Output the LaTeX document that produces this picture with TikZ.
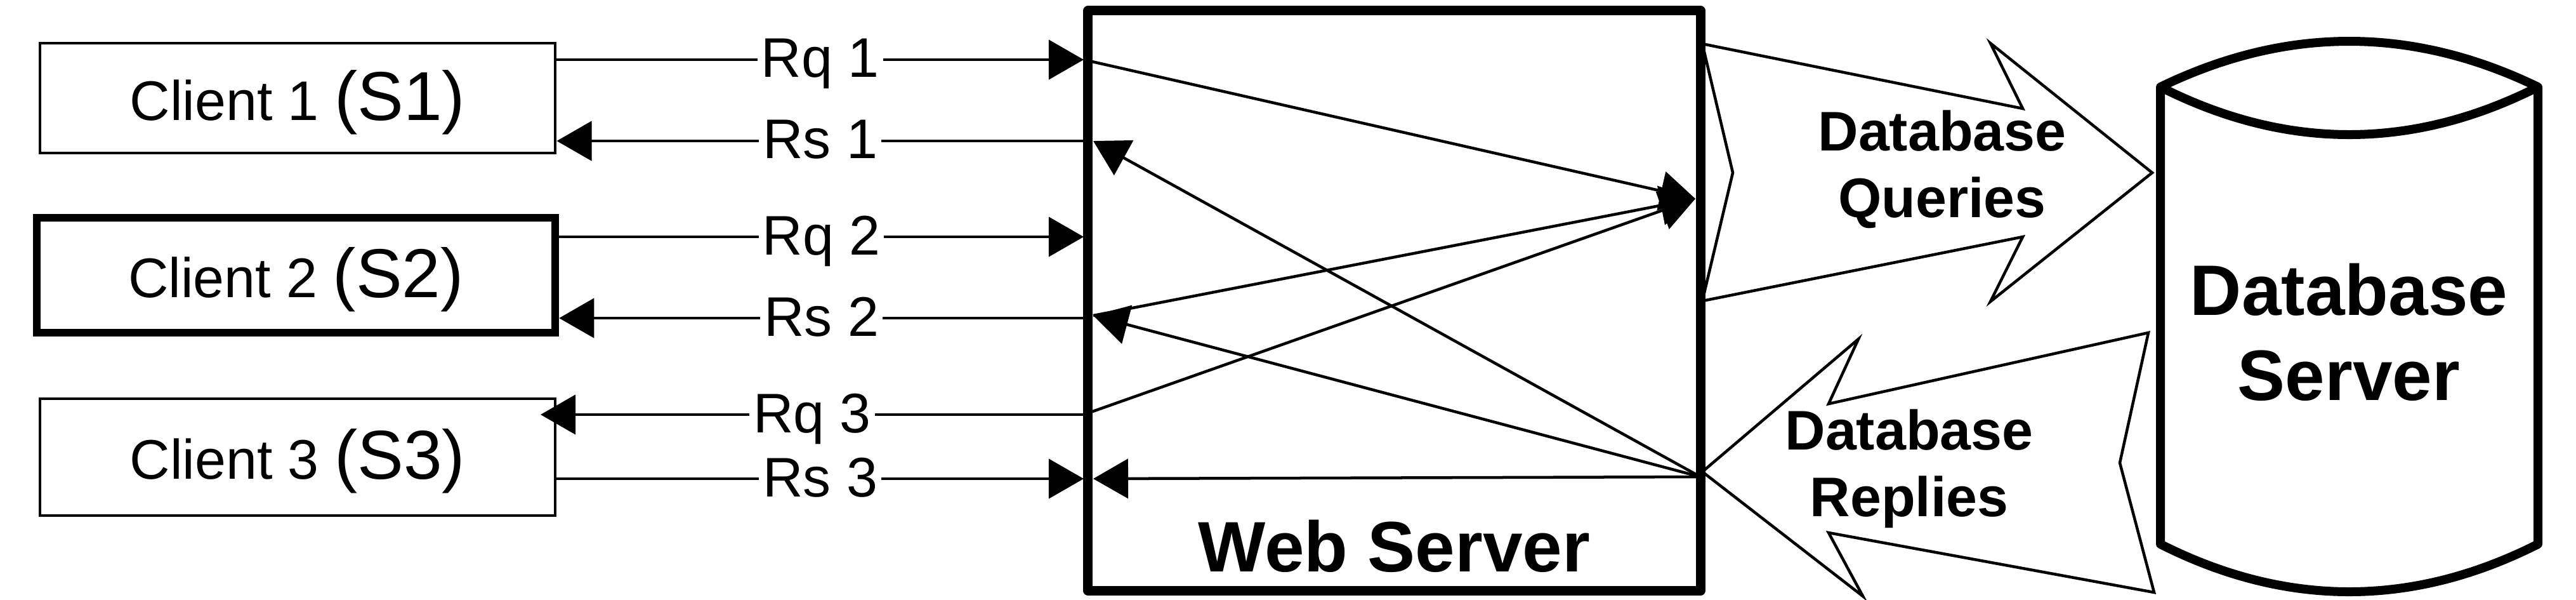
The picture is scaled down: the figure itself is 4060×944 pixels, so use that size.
\documentclass[tikz,border=0pt]{standalone}
\usepackage{fontspec}
\setmainfont{Liberation Sans}
\usepackage{tikz}
\usetikzlibrary{arrows.meta}
\newcommand\srvid[1]{{\fontsize{31}{36}\selectfont(S#1)}}

\begin{document}
\begin{tikzpicture}[x=0.01cm,y=-0.01cm,font=\fontsize{25}{30}\selectfont]
  \tikzstyle{cl}=[draw,line width=0.045cm,minimum width=8.12cm,minimum height=1.73cm,inner sep=0pt,text depth=0.1cm]
  \tikzstyle{m}=[line width=0.045cm,-{Triangle[length=0.55cm,width=0.62cm]}]
  \tikzstyle{lb}=[fill=white,inner sep=0.06cm,text depth=0.05cm]
  \tikzstyle{big}=[font=\bfseries\fontsize{32}{38}\selectfont,align=center]
  \tikzstyle{mid}=[font=\bfseries\fontsize{25}{30}\selectfont,align=center]
  \useasboundingbox (0,0) rectangle (4060,944);
  \node[cl] (c1) at (469,154.5) {Client 1 \srvid{1}};
  \node[cl,line width=0.12cm,minimum width=8.17cm,minimum height=1.81cm] (c2) at (466.5,433.5) {Client 2 \srvid{2}};
  \node[cl,minimum height=1.84cm] (c3) at (469,720) {Client 3 \srvid{3}};
  \node[draw,line width=0.145cm,line join=round,minimum width=9.65cm,minimum height=9.13cm] (web) at (2197.5,473.5) {};
  \node[big,anchor=base] (webl) at (2197.5,900) {Web Server};
  \coordinate (p1) at (1708,94);
  \coordinate (p2) at (1708,222);
  \coordinate (p3) at (1708,373);
  \coordinate (p4) at (1708,501);
  \coordinate (p5) at (1708,653);
  \coordinate (p6) at (1708,754);
  \coordinate (t5) at (852,653);
  \draw[m] (c1.east |- p1) -- (p1) node[lb,midway]{Rq 1};
  \draw[m] (p2) -- (c1.east |- p2) node[lb,midway]{Rs 1};
  \draw[m] (c2.east |- p3) -- (p3) node[lb,midway]{Rq 2};
  \draw[m] (p4) -- (c2.east |- p4) node[lb,midway]{Rs 2};
  \draw[m] (p5) -- (t5) node[lb,midway]{Rq 3};
  \draw[m] (c3.east |- p6) -- (p6) node[lb,midway]{Rs 3};
  \coordinate (hq) at (2672,313);
  \coordinate (hr) at (2680,751);
  \coordinate (i1) at (1723,222);
  \coordinate (i2) at (1723,497);
  \coordinate (i3) at (1723,754);
  \draw[m] (p1) -- (hq);
  \draw[m] (i2) -- (hq);
  \draw[m] (p5) -- (hq);
  \draw[m] (hr) -- (i1);
  \draw[m] (hr) -- (i2);
  \draw[m] (hr) -- (i3);
  \draw[line width=0.045cm] (2683,69) -- (3188,171) -- (3137,68) -- (3392,272) -- (3137,475) -- (3188,373) -- (2683,474) -- (2731,272) -- cycle;
  \draw[line width=0.045cm] (2683,743) -- (2929,534) -- (2882,636) -- (3386,524) -- (3341,729) -- (3395,933) -- (2882,839) -- (2936,939) -- cycle;
  \node[mid] (dq) at (3061,267) {Database\\Queries};
  \node[mid] (dr) at (3009,738) {Database\\Replies};
  \draw[line width=0.14cm,line join=round] (3405,857) -- (3405,137) .. controls (3603,41) and (3802,41) .. (4000,137) -- (4000,857) .. controls (3802,957) and (3603,957) .. cycle;
  \draw[line width=0.14cm] (3405,137) .. controls (3603,237) and (3802,237) .. (4000,137);
  \node[big] (db) at (3702,523) {Database\\Server};
\end{tikzpicture}
\end{document}
